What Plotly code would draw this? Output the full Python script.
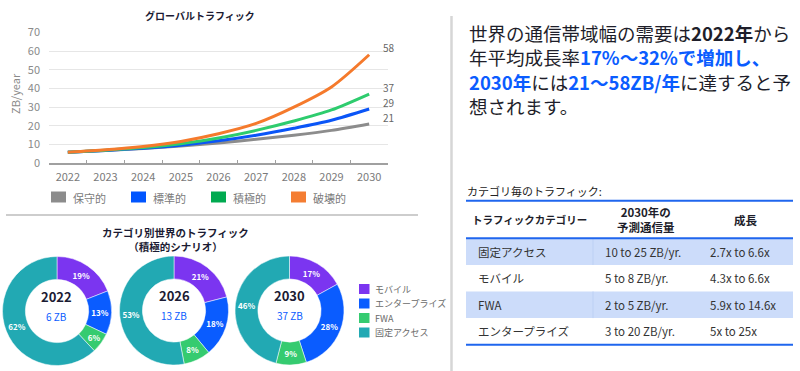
import plotly.graph_objects as go

# ---------------- data ----------------
years = ["2022", "2023", "2024", "2025", "2026", "2027", "2028", "2029", "2030"]
scenario_names = ["保守的", "標準的", "積極的", "破壊的"]
conservative = [5.9, 6.8, 7.9, 9.2, 10.9, 12.8, 15.0, 17.6, 21]
standard = [5.9, 6.9, 8.1, 9.7, 12.0, 15.0, 18.7, 23.0, 29]
aggressive = [5.9, 7.0, 8.4, 10.5, 13.5, 17.6, 22.6, 28.5, 37]
disruptive = [5.9, 7.2, 9.0, 11.7, 15.8, 21.3, 30.0, 40.8, 58]

donut_years = ["2022", "2026", "2030"]
donut_totals = ["6 ZB", "13 ZB", "37 ZB"]
categories = ["モバイル", "エンタープライズ", "FWA", "固定アクセス"]
share_2022 = [19, 13, 6, 62]
share_2026 = [21, 18, 8, 53]
share_2030 = [17, 28, 9, 46]

table_header = ["トラフィックカテゴリー", "2030年の<br>予測通信量", "成長"]
table_category = ["固定アクセス", "モバイル", "FWA", "エンタープライズ"]
table_volume = ["10 to 25 ZB/yr.", "5 to 8 ZB/yr.", "2 to 5 ZB/yr.", "3 to 20 ZB/yr."]
table_growth = ["2.7x to 6.6x", "4.3x to 6.6x", "5.9x to 14.6x", "5x to 25x"]

# ---------------- styles ----------------
FONT = "Noto Sans CJK JP"
W, H = 800, 371
line_colors = ["#8C8C8C", "#0A55F7", "#2ECC6E", "#F57A2C"]
legend_colors = ["#8C8C8C", "#0055FF", "#00AA50", "#F47D32"]
donut_colors = ["#7B35F0", "#0A5CFF", "#35CB70", "#22A9B3"]
DARK = "#1B1B33"
BLUE_TXT = "#0A5CFF"


def px(x):
    return x / W


def py(y):
    return 1 - y / H


fig = go.Figure()
annotations = []
shapes = []

# ---------------- line chart ----------------
series = [conservative, standard, aggressive, disruptive]
for name, vals, col in zip(scenario_names, series, line_colors):
    fig.add_trace(go.Scatter(
        x=years, y=vals, name=name, mode="lines",
        line=dict(color=col, width=3, shape="spline", smoothing=0.8),
        xaxis="x", yaxis="y", showlegend=False, hoverinfo="skip"))

last = len(years) - 1
for vals in series:
    annotations.append(dict(
        x=last, y=vals[-1], xref="x", yref="y", text=str(vals[-1]),
        showarrow=False, xanchor="left", yanchor="middle", xshift=12, yshift=7,
        font=dict(family=FONT, size=10, color="#666666")))

fig.update_layout(
    xaxis=dict(domain=[px(49), px(388)], type="category", range=[-0.5, 8.5],
               tickson="boundaries", ticks="inside", ticklen=4, tickcolor="#A0A0A0",
               showline=True, linecolor="#A0A0A0", linewidth=1.5, showgrid=False,
               zeroline=False, tickfont=dict(family=FONT, size=11, color="#7A7A7A"),
               ticklabelstandoff=3, anchor="y", fixedrange=True, automargin=False),
    yaxis=dict(domain=[py(163.3), py(32.3)], range=[0, 70], dtick=10,
               showgrid=True, gridcolor="#E6E6E6", gridwidth=1, zeroline=False,
               showline=False, tickfont=dict(family=FONT, size=11, color="#8A8A8A"),
               ticklabelstandoff=8, anchor="x", fixedrange=True, automargin=False),
)

annotations.append(dict(x=px(200), y=py(16), xref="paper", yref="paper",
                        text="<b>グローバルトラフィック</b>", showarrow=False,
                        xanchor="center", yanchor="middle",
                        font=dict(family=FONT, size=10, color=DARK)))
annotations.append(dict(x=px(15), y=py(94), xref="paper", yref="paper",
                        text="ZB/year", textangle=-90, showarrow=False,
                        xanchor="center", yanchor="middle",
                        font=dict(family=FONT, size=11, color="#8A8A8A")))

# line-chart legend
for i, (name, col) in enumerate(zip(scenario_names, legend_colors)):
    x0 = 51 + 80 * i
    shapes.append(dict(type="rect", xref="paper", yref="paper",
                       x0=px(x0), x1=px(x0 + 15), y0=py(202.5), y1=py(191.5),
                       fillcolor=col, line=dict(width=0)))
    annotations.append(dict(x=px(x0 + 20), y=py(197.5), xref="paper", yref="paper",
                            text=name, showarrow=False, xanchor="left", yanchor="middle",
                            font=dict(family=FONT, size=11, color="#7A7A7A")))

shapes.append(dict(type="line", xref="paper", yref="paper", x0=px(6), x1=px(418),
                   y0=py(215), y1=py(215), line=dict(color="#BDBDBD", width=1.5)))

# ---------------- donuts ----------------
annotations.append(dict(x=px(175), y=py(239), xref="paper", yref="paper",
                        text="<b>カテゴリ別世界のトラフィック<br>（積極的シナリオ）</b>",
                        showarrow=False, xanchor="center", yanchor="middle",
                        font=dict(family=FONT, size=10.5, color=DARK)))

centers = [(57, 311), (174, 310.5), (289.5, 310.5)]
R = 54.5
shares = [share_2022, share_2026, share_2030]
for (cx, cy), yr, tot, vals in zip(centers, donut_years, donut_totals, shares):
    fig.add_trace(go.Pie(
        values=vals, labels=categories, sort=False, direction="clockwise", rotation=0,
        hole=0.58, marker=dict(colors=donut_colors, line=dict(color="white", width=0.5)),
        text=[f"<b>{v}%</b>" for v in vals], textinfo="text", textposition="inside",
        insidetextorientation="horizontal",
        textfont=dict(family=FONT, size=8, color="white"),
        domain=dict(x=[px(cx - R), px(cx + R)], y=[py(cy + R), py(cy - R)]),
        showlegend=False, hoverinfo="skip"))
    annotations.append(dict(x=px(cx), y=py(cy - 15), xref="paper", yref="paper",
                            text=f"<b>{yr}</b>", showarrow=False,
                            xanchor="center", yanchor="middle",
                            font=dict(family=FONT, size=13, color=DARK)))
    annotations.append(dict(x=px(cx), y=py(cy + 5), xref="paper", yref="paper",
                            text=tot, showarrow=False,
                            xanchor="center", yanchor="middle",
                            font=dict(family=FONT, size=10, color=BLUE_TXT)))

for i, (cat, col) in enumerate(zip(categories, donut_colors)):
    yc = 289 + 14.5 * i
    shapes.append(dict(type="rect", xref="paper", yref="paper",
                       x0=px(359), x1=px(369.5), y0=py(yc + 5), y1=py(yc - 5),
                       fillcolor=col, line=dict(width=0)))
    annotations.append(dict(x=px(372.5), y=py(yc), xref="paper", yref="paper",
                            text=cat, showarrow=False, xanchor="left", yanchor="middle",
                            font=dict(family=FONT, size=9, color="#6A6A6A")))

# ---------------- right panel ----------------
shapes.append(dict(type="line", xref="paper", yref="paper", x0=px(451.5), x1=px(451.5),
                   y0=py(16), y1=py(371), line=dict(color="#D6D6D6", width=2.5)))

b = "color:#0A5CFF"
para_lines = [
    "世界の通信帯域幅の需要は<b>2022年</b>から",
    f"年平均成長率<b><span style='{b}'>17%～32%で増加し、</span></b>",
    f"<b><span style='{b}'>2030年</span></b>には<b><span style='{b}'>21～58ZB/年</span></b>に達すると予",
    "想されます。",
]
for i, ln in enumerate(para_lines):
    annotations.append(dict(x=px(467), y=py(32.5 + 24.6 * i), xref="paper", yref="paper",
                            text=ln, showarrow=False, xanchor="left", yanchor="middle",
                            font=dict(family=FONT, size=18.5, color="#1E1E2A")))

annotations.append(dict(x=px(465), y=py(190.5), xref="paper", yref="paper",
                        text="カテゴリ毎のトラフィック:", showarrow=False,
                        xanchor="left", yanchor="middle",
                        font=dict(family=FONT, size=11, color="#222222")))

# table (drawn from the lists above)
col_edges = [466, 593, 698, 793]
head_top, head_bot = 200.7, 238.3
row_h = 26.6
header_sizes = [10.5, 11.5, 11.5]
for j, htxt in enumerate(table_header):
    annotations.append(dict(x=px((col_edges[j] + col_edges[j + 1]) / 2),
                            y=py((head_top + head_bot) / 2), xref="paper", yref="paper",
                            text=f"<b>{htxt}</b>", showarrow=False,
                            xanchor="center", yanchor="middle",
                            font=dict(family=FONT, size=header_sizes[j], color="#1E1E2A")))

columns = [table_category, table_volume, table_growth]
for i in range(len(table_category)):
    y0 = head_bot + row_h * i
    y1 = y0 + row_h
    if i % 2 == 0:
        shapes.append(dict(type="rect", xref="paper", yref="paper", layer="below",
                           x0=px(col_edges[0]), x1=px(col_edges[-1]),
                           y0=py(y1), y1=py(y0), fillcolor="#CCDCFA",
                           line=dict(width=0)))
        shapes.append(dict(type="line", xref="paper", yref="paper", layer="below",
                           x0=px(col_edges[1]), x1=px(col_edges[1]),
                           y0=py(y1), y1=py(y0), line=dict(color="#BCD0F4", width=1)))
    for j, col in enumerate(columns):
        annotations.append(dict(x=px(col_edges[j] + 10), y=py((y0 + y1) / 2),
                                xref="paper", yref="paper", text=col[i],
                                showarrow=False, xanchor="left", yanchor="middle",
                                font=dict(family=FONT, size=11.5, color="#333333")))

table_bottom = head_bot + row_h * len(table_category)
for yline in [head_top, head_bot, table_bottom]:
    shapes.append(dict(type="line", xref="paper", yref="paper", x0=px(466), x1=px(793),
                       y0=py(yline), y1=py(yline), line=dict(color="#1F66EE", width=2)))

fig.update_layout(
    width=W, height=H, margin=dict(l=0, r=0, t=0, b=0, autoexpand=False),
    paper_bgcolor="white", plot_bgcolor="white", showlegend=False,
    font=dict(family=FONT), annotations=annotations, shapes=shapes)

fig.write_html("out.html", config={"displayModeBar": False},
               post_script="document.body.style.margin='0';document.body.style.overflow='hidden';")
